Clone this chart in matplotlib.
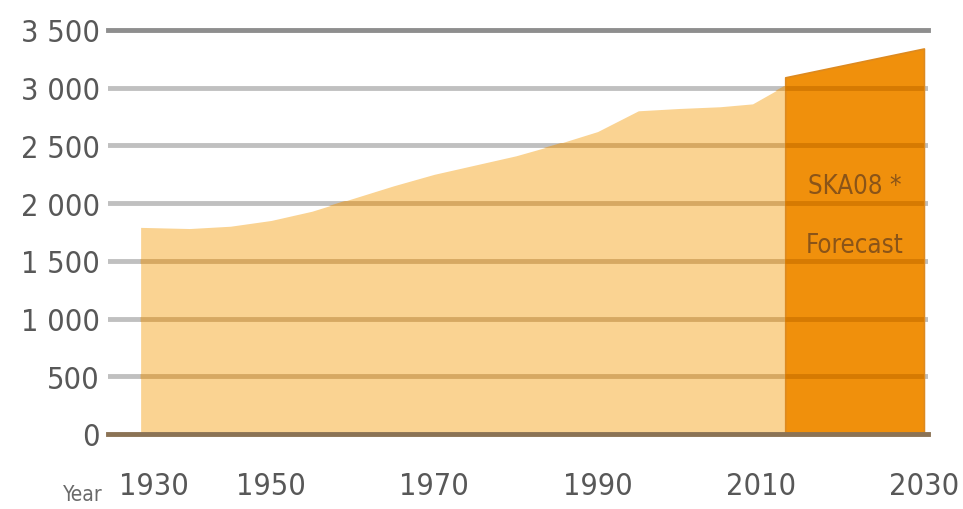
import matplotlib
matplotlib.use("Agg")
import matplotlib.pyplot as plt
from matplotlib.transforms import ScaledTranslation
from matplotlib.ticker import FuncFormatter

# Historical series (light band) and forecast (dark band)
years_hist = [1934, 1940, 1945, 1950, 1955, 1960, 1965, 1970, 1975, 1980,
              1985, 1990, 1995, 2000, 2005, 2009, 2013]
values_hist = [1790, 1780, 1800, 1850, 1930, 2040, 2150, 2250, 2330, 2410,
               2510, 2620, 2800, 2820, 2835, 2860, 3020]
years_fc = [2013, 2030]
values_fc = [3090, 3340]

y_ticks = [0, 500, 1000, 1500, 2000, 2500, 3000, 3500]
x_ticks = [1930, 1950, 1970, 1990, 2010, 2030]
fc_line1 = "SKA08 *"
fc_line2 = "Forecast"

plt.rcParams["font.family"] = ["DejaVu Sans"]
plt.rcParams["font.stretch"] = "condensed"

fig = plt.figure(figsize=(9.63, 5.10), dpi=100)
ax = fig.add_axes([108 / 963, 75 / 510, 820 / 963, 404 / 510])
ax.set_xlim(1930.2, 2030.5)
ax.set_ylim(0, 3500)

light = ax.fill_between(years_hist, values_hist, 0, color="#fad392", lw=0, zorder=1)
dark = ax.fill_between(years_fc, values_fc, 0, facecolor="#f0900c",
                       edgecolor="#dd8a20", lw=1.2, zorder=2)

# Grid: grey on white, tinted where it crosses the bands
for y in y_ticks[1:-1]:
    ax.axhline(y, color="#c0c0c0", lw=3.5, zorder=0.5)
    l1 = ax.axhline(y, color="#d6a862", lw=3.5, zorder=3)
    l1.set_clip_path(light.get_paths()[0], ax.transData)
    l2 = ax.axhline(y, color="#d67a02", lw=3.5, zorder=3)
    l2.set_clip_path(dark.get_paths()[0], ax.transData)
ax.axhline(3500, color="#8e8e8e", lw=3.5, zorder=3, clip_on=False)
ax.axhline(0, color="#8b7355", lw=3.5, zorder=4, clip_on=False)

for s in ax.spines.values():
    s.set_visible(False)

ax.set_yticks(y_ticks)
ax.yaxis.set_major_formatter(FuncFormatter(lambda v, p: f"{int(v):,}".replace(",", " ")))
ax.set_xticks(x_ticks)
ax.set_xticklabels([str(x) for x in x_ticks])
ax.tick_params(axis="y", length=0, pad=6, labelsize=22, labelcolor="#585858")
ax.tick_params(axis="x", length=0, pad=27, labelsize=22, labelcolor="#585858")

# first year label sits right of the "Year" caption
first = ax.get_xticklabels()[0]
first.set_transform(first.get_transform() + ScaledTranslation(0.46, 0, fig.dpi_scale_trans))

fig.text(83 / 963, 1 - 501 / 510, "Year", ha="center", va="baseline",
         fontsize=15, color="#6a6a6a")

xc = (years_fc[0] + years_fc[1]) / 2
ax.text(xc, 2150, fc_line1, ha="center", va="center", fontsize=18.5,
        color="#8a5418", zorder=5)
ax.text(xc, 1640, fc_line2, ha="center", va="center", fontsize=18.5,
        color="#8a5418", zorder=5)

fig.savefig("out.png", dpi=100, facecolor="white")
